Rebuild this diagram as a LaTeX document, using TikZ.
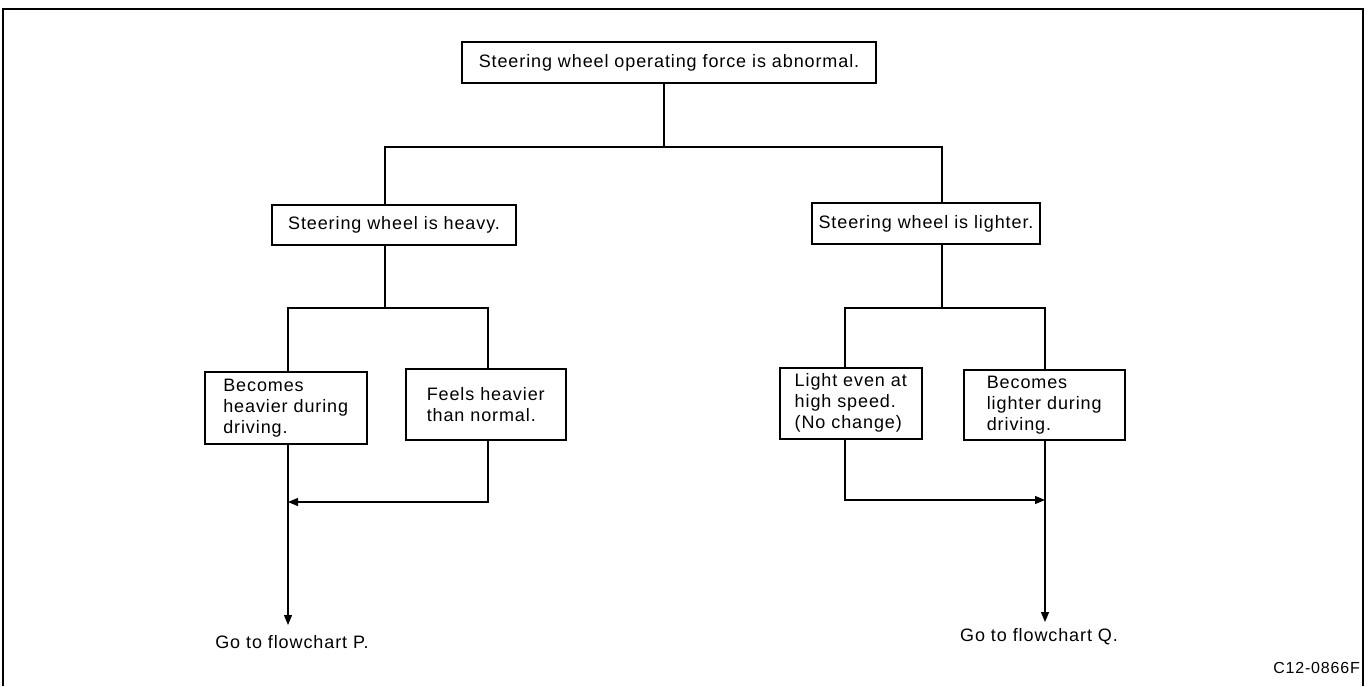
\documentclass[tikz,border=0pt]{standalone}
\usepackage{fontspec}
\setmainfont{Liberation Sans}[LetterSpace=5]
\usetikzlibrary{arrows.meta}
\begin{document}
\begin{tikzpicture}[x=1pt,y=-1pt,
  box/.style={draw,line width=1.5pt,inner sep=0pt,font=\fontsize{18}{21}\selectfont,align=center},
  lowbox/.style={draw,line width=1.5pt,inner xsep=6pt,inner ysep=0pt,font=\fontsize{18}{21}\selectfont,align=left},
  conn/.style={line width=1.2pt},
  arr/.style={line width=1.2pt,-{Triangle[length=10pt,width=8pt,fill=black]}},
  lbl/.style={font=\fontsize{18}{21}\selectfont,inner sep=0pt}]
\useasboundingbox (0,0) rectangle (1368,686);
% frame
\draw[line width=1.8pt] (3,686) -- (3,9) -- (1363,9) -- (1363,686);
% nodes
\node[box,minimum width=414pt,minimum height=41pt] (top) at (669,62.5) {Steering wheel operating force is abnormal.};
\node[box,minimum width=244pt,minimum height=40pt] (heavy) at (394,225) {Steering wheel is heavy.};
\node[box,minimum width=228pt,minimum height=41pt] (light) at (926,223.5) {Steering wheel is lighter.};
\node[lowbox,anchor=north west,minimum width=162pt,minimum height=72pt] (A) at (204,371) {Becomes\\heavier during\\driving.};
\node[lowbox,anchor=north west,minimum width=160pt,minimum height=71pt] (B) at (405,368) {Feels heavier\\than normal.};
\node[lowbox,anchor=north west,minimum width=142pt,minimum height=71pt] (C) at (779,367) {Light even at\\high speed.\\(No change)};
\node[lowbox,anchor=north west,minimum width=161pt,minimum height=70pt] (D) at (963,369) {Becomes\\lighter during\\driving.};
\node[lbl] (P) at (292,642) {Go to flowchart P.};
\node[lbl] (Q) at (1039,637) {Go to flowchart Q.};
\node[lbl,anchor=east,font=\fontsize{16}{18}\selectfont] (code) at (1360,668) {C12-0866F};
% junction coordinates
\coordinate (j0) at (664,147);
\coordinate (j0L) at (385,147);
\coordinate (j0R) at (942,147);
\coordinate (j1) at (385,308);
\coordinate (j1L) at (288,308);
\coordinate (j1R) at (488,308);
\coordinate (j2) at (942,308);
\coordinate (j2L) at (845,308);
\coordinate (j2R) at (1045,308);
\coordinate (m1R) at (488,502);
\coordinate (m1L) at (288,502);
\coordinate (m2L) at (845,500);
\coordinate (m2R) at (1045,500);
\coordinate (endP) at (288,625);
\coordinate (endQ) at (1045,622);
% connectors
\draw[conn] (top.south -| j0) -- (j0);
\draw[conn] (heavy.north -| j0L) -- (j0L) -- (j0R) -- (light.north -| j0R);
\draw[conn] (heavy.south -| j1) -- (j1);
\draw[conn] (A.north -| j1L) -- (j1L) -- (j1R) -- (B.north -| j1R);
\draw[conn] (light.south -| j2) -- (j2);
\draw[conn] (C.north -| j2L) -- (j2L) -- (j2R) -- (D.north -| j2R);
\draw[arr] (B.south -| m1R) -- (m1R) -- (m1L);
\draw[arr] (A.south -| m1L) -- (endP);
\draw[arr] (C.south -| m2L) -- (m2L) -- (m2R);
\draw[arr] (D.south -| m2R) -- (endQ);
\end{tikzpicture}
\end{document}
